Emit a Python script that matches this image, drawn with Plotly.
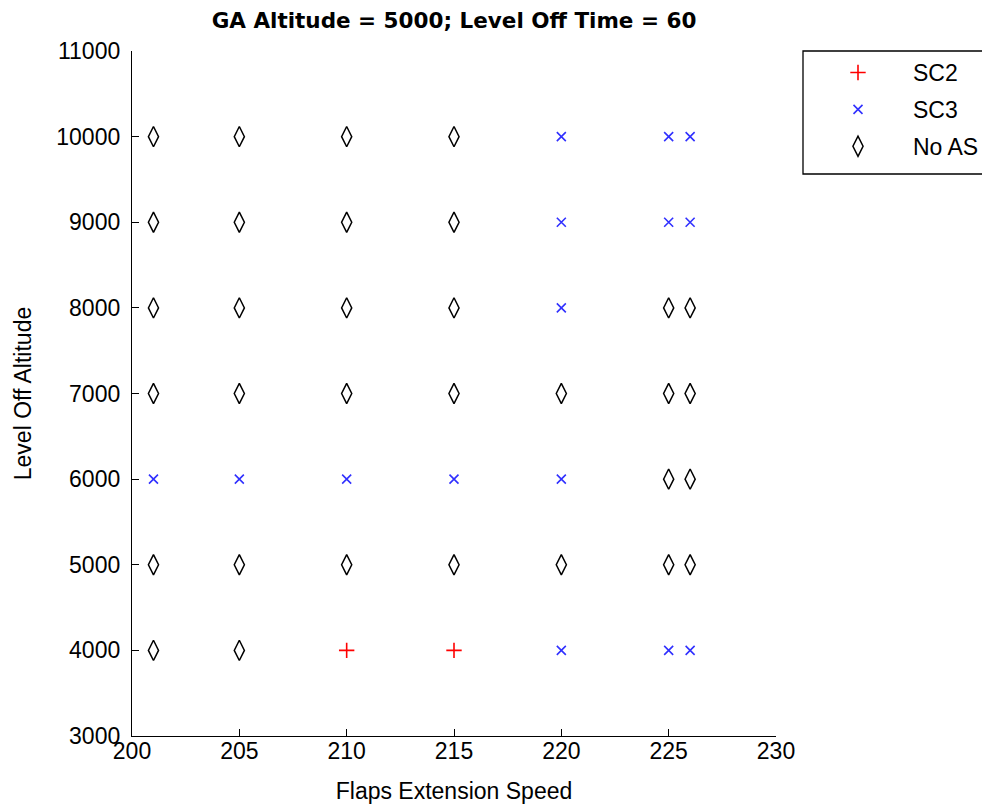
import plotly.graph_objects as go

# Data
sc2_speed = [210, 215]
sc2_alt = [4000, 4000]

sc3_speed = [201, 205, 210, 215, 220, 220, 220, 220, 220, 225, 225, 225, 226, 226, 226]
sc3_alt = [6000, 6000, 6000, 6000, 10000, 9000, 8000, 6000, 4000, 10000, 9000, 4000, 10000, 9000, 4000]

noas_speed = [201, 201, 201, 201, 201, 201,
              205, 205, 205, 205, 205, 205,
              210, 210, 210, 210, 210,
              215, 215, 215, 215, 215,
              220, 220,
              225, 225, 225, 225,
              226, 226, 226, 226]
noas_alt = [10000, 9000, 8000, 7000, 5000, 4000,
            10000, 9000, 8000, 7000, 5000, 4000,
            10000, 9000, 8000, 7000, 5000,
            10000, 9000, 8000, 7000, 5000,
            7000, 5000,
            8000, 7000, 6000, 5000,
            8000, 7000, 6000, 5000]

x_ticks = [200, 205, 210, 215, 220, 225, 230]
y_ticks = [3000, 4000, 5000, 6000, 7000, 8000, 9000, 10000, 11000]

FONT = "Liberation Sans"
W, H = 990, 807
ML, MT, PW, PH = 124, 43, 644, 685   # page has an 8px body offset

fig = go.Figure()
fig.add_trace(go.Scatter(
    x=sc2_speed, y=sc2_alt, mode="markers", name="SC2", legendgroup="a",
    marker=dict(symbol="cross-thin-open", size=11, color="#ff0000",
                line=dict(color="#ff0000", width=1.6))))
fig.add_trace(go.Scatter(
    x=sc3_speed, y=sc3_alt, mode="markers", name="SC3", legendgroup="b",
    marker=dict(symbol="x-thin-open", size=9, color="#3030ff",
                line=dict(color="#3030ff", width=1.6))))
fig.add_trace(go.Scatter(
    x=noas_speed, y=noas_alt, mode="markers", name="No AS", legendgroup="c",
    marker=dict(symbol="diamond-tall-open", size=14.5, color="#000000",
                line=dict(color="#000000", width=1.5))))

axis_common = dict(
    showline=True, linecolor="black", linewidth=1.3, mirror=False,
    ticks="inside", ticklen=7, tickcolor="black", tickwidth=1.3,
    showgrid=False, zeroline=False,
    tickfont=dict(family=FONT, size=23, color="black"),
)

leg_left = (795 - ML) / PW
leg_top = 1.0
leg_bottom = 1 - (166 - MT) / PH

fig.update_layout(
    width=W, height=H,
    margin=dict(l=ML, r=W - ML - PW, t=MT, b=H - MT - PH, autoexpand=False),
    paper_bgcolor="white", plot_bgcolor="white",
    title=dict(text="GA Altitude = 5000; Level Off Time = 60",
               x=0.5, xref="paper", xanchor="center",
               y=1 - 12 / H, yanchor="middle",
               font=dict(family="DejaVu Sans", size=21.5, color="black", weight="bold")),
    xaxis=dict(range=[200, 230], tickvals=x_ticks, ticktext=[str(v) for v in x_ticks],
               title=dict(text="Flaps Extension Speed", standoff=20,
                          font=dict(family=FONT, size=23, color="black")),
               ticklabelstandoff=-6, **axis_common),
    yaxis=dict(range=[3000, 11000], tickvals=y_ticks, ticktext=[str(v) for v in y_ticks],
               title=dict(text="Level Off Altitude", standoff=18,
                          font=dict(family=FONT, size=23, color="black")),
               ticklabelstandoff=6, **axis_common),
    legend=dict(x=leg_left, xanchor="left", y=leg_top, yanchor="top",
                bgcolor="rgba(0,0,0,0)", borderwidth=0,
                font=dict(family=FONT, size=23, color="black"),
                traceorder="grouped", tracegroupgap=4, itemwidth=100),
    shapes=[dict(type="rect", xref="paper", yref="paper", layer="below",
                 x0=leg_left, x1=1.4, y0=leg_bottom, y1=leg_top,
                 line=dict(color="black", width=1.3), fillcolor="white")],
    showlegend=True,
)

fig.write_html("out.html")
